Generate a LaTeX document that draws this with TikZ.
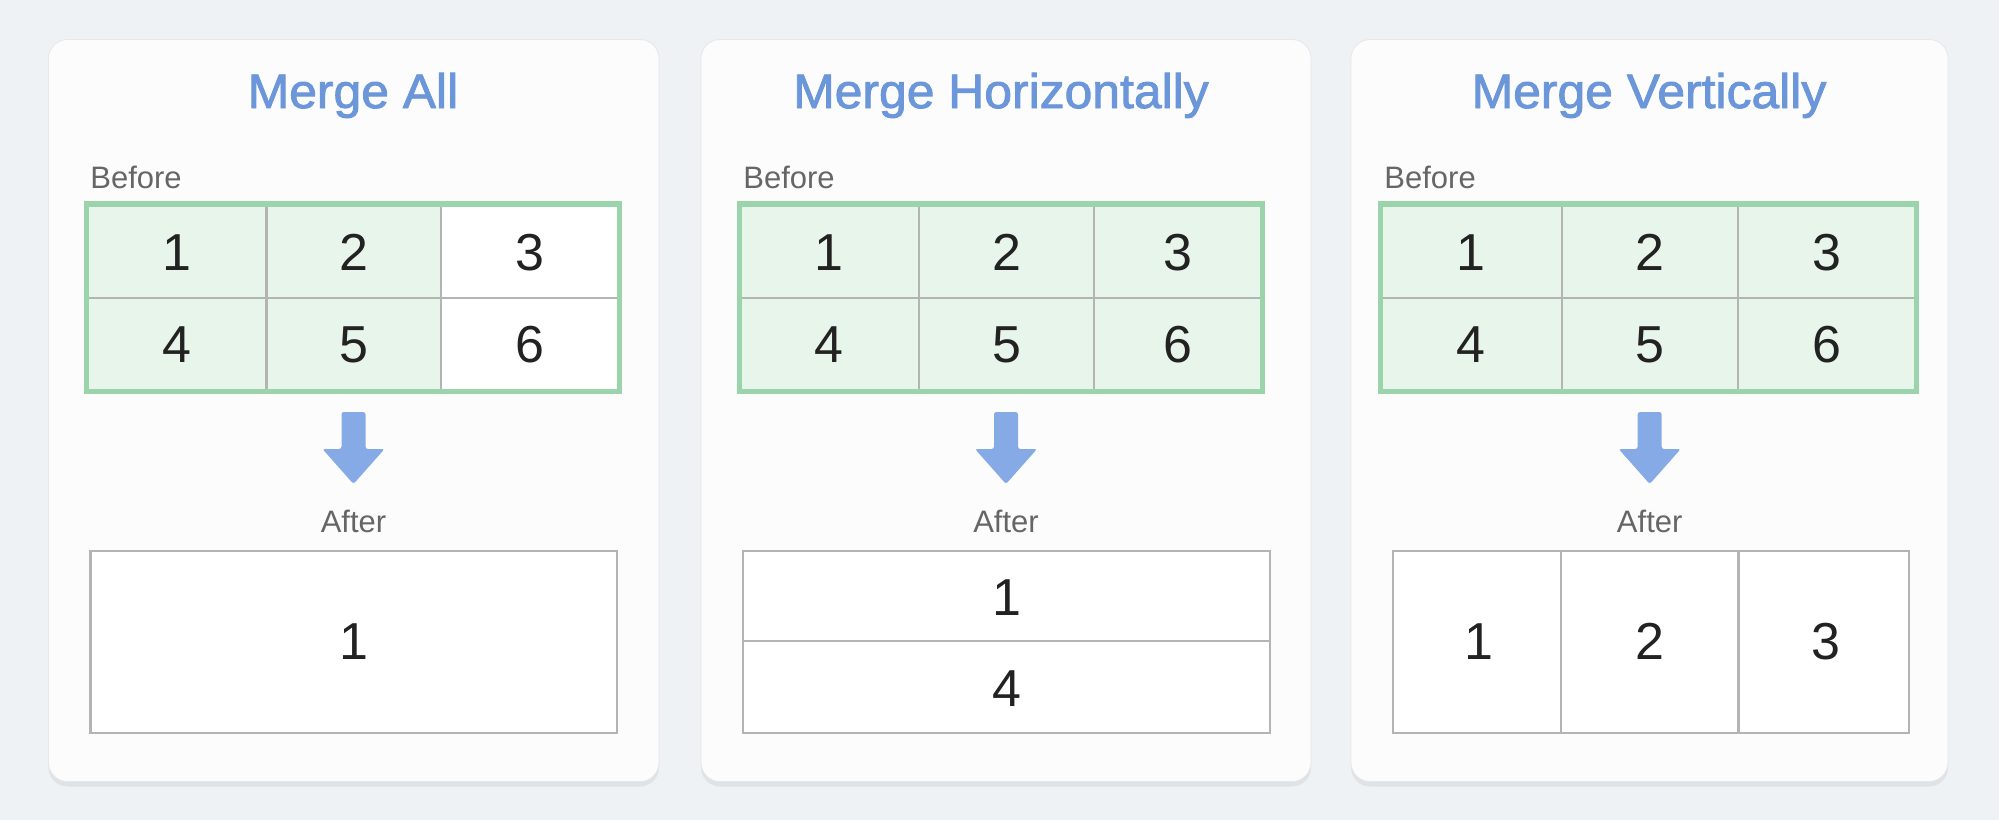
\documentclass[tikz,border=0pt]{standalone}
\usepackage{fontspec}
\setmainfont{Liberation Sans}
\newfontfamily\titlefont[FakeBold=1.8,FakeStretch=1.03]{Liberation Sans}
\usetikzlibrary{shadows}
\definecolor{bgc}{HTML}{EEF2F4}
\definecolor{cardc}{HTML}{FCFCFC}
\definecolor{cardline}{HTML}{E4E8EA}
\definecolor{titlec}{HTML}{6B96D9}
\definecolor{labc}{HTML}{666666}
\definecolor{numc}{HTML}{222222}
\definecolor{greenc}{HTML}{E8F5EA}
\definecolor{greenline}{HTML}{9BD3AA}
\definecolor{cellline}{HTML}{B4B4B4}
\definecolor{arrowc}{HTML}{86AAE6}
\tikzset{
 card/.style={fill=cardc, draw=cardline, line width=0.4pt, rounded corners=9.5pt,
   drop shadow={shadow xshift=0pt, shadow yshift=-2.5pt, opacity=0.06, fill=black}},
 titletext/.style={font=\titlefont\fontsize{24.2}{28}\selectfont, text=titlec, anchor=base, inner sep=0pt},
 labtext/.style={font=\fontsize{15.5}{18}\selectfont, text=labc, anchor=base, inner sep=0pt},
 numtext/.style={font=\fontsize{26}{30}\selectfont, text=numc, anchor=base, inner sep=0pt},
 gcell/.style={fill=greenc, draw=cellline, line width=1.2pt},
 wcell/.style={fill=white, draw=cellline, line width=1.2pt},
 gframe/.style={draw=greenline, line width=2.6pt},
 afterbox/.style={fill=white, draw=cellline, line width=1.2pt},
 bigarrow/.style={fill=arrowc, rounded corners=1.2pt},
}
\begin{document}
\begin{tikzpicture}[x=0.5pt,y=-0.5pt]
\useasboundingbox (0,0) rectangle (1999,820);
\fill[bgc] (0,0) rectangle (1999,820);

% cards
\draw[card] (48.5,39.5) rectangle (659,781.5);
\draw[card] (701,39.5) rectangle (1311,781.5);
\draw[card] (1351,39.5) rectangle (1948,781.5);

% titles
\node[titletext] (t1) at (353,108) {Merge All};
\node[titletext] (t2) at (1001,108) {Merge Horizontally};
\node[titletext] (t3) at (1649,108) {Merge Vertically};

% before labels
\node[labtext, anchor=base west] (b1) at (90,188) {Before};
\node[labtext, anchor=base west] (b2) at (743,188) {Before};
\node[labtext, anchor=base west] (b3) at (1384,188) {Before};

% ---------- panel 1 before table
\draw[gcell] (86.7,204) rectangle (266.5,298);
\draw[gcell] (266.5,204) rectangle (441,298);
\draw[wcell] (441,204) rectangle (619.6,298);
\draw[gcell] (86.7,298) rectangle (266.5,391.5);
\draw[gcell] (266.5,298) rectangle (441,391.5);
\draw[wcell] (441,298) rectangle (619.6,391.5);
\draw[gframe] (86.7,204) rectangle (619.6,391.5);
\node[numtext] (p1c1) at (176.6,270) {1};
\node[numtext] (p1c2) at (353.8,270) {2};
\node[numtext] (p1c3) at (530.3,270) {3};
\node[numtext] (p1c4) at (176.6,362.5) {4};
\node[numtext] (p1c5) at (353.8,362.5) {5};
\node[numtext] (p1c6) at (530.3,362.5) {6};

% ---------- panel 2 before table
\foreach \xa/\xb in {739.4/919.2, 919.2/1093.9, 1093.9/1262.2}{
  \draw[gcell] (\xa,204) rectangle (\xb,298);
  \draw[gcell] (\xa,298) rectangle (\xb,391.5);
}
\draw[gframe] (739.4,204) rectangle (1262.2,391.5);
\node[numtext] (p2c1) at (829.3,270) {1};
\node[numtext] (p2c2) at (1006.5,270) {2};
\node[numtext] (p2c3) at (1178,270) {3};
\node[numtext] (p2c4) at (829.3,362.5) {4};
\node[numtext] (p2c5) at (1006.5,362.5) {5};
\node[numtext] (p2c6) at (1178,362.5) {6};

% ---------- panel 3 before table
\foreach \xa/\xb in {1380.7/1561.8, 1561.8/1737.7, 1737.7/1916.2}{
  \draw[gcell] (\xa,204) rectangle (\xb,298);
  \draw[gcell] (\xa,298) rectangle (\xb,391.5);
}
\draw[gframe] (1380.7,204) rectangle (1916.2,391.5);
\node[numtext] (p3c1) at (1471.2,270) {1};
\node[numtext] (p3c2) at (1649.7,270) {2};
\node[numtext] (p3c3) at (1827,270) {3};
\node[numtext] (p3c4) at (1471.2,362.5) {4};
\node[numtext] (p3c5) at (1649.7,362.5) {5};
\node[numtext] (p3c6) at (1827,362.5) {6};

% ---------- arrows
\foreach \cx in {353.5, 1006, 1649.7}{
  \fill[bigarrow] ({\cx-12},412) -- ({\cx+12},412) -- ({\cx+12},449) -- ({\cx+31},449)
     -- (\cx,484) -- ({\cx-31},449) -- ({\cx-12},449) -- cycle;
}

% after labels
\node[labtext] (a1) at (353.5,532) {After};
\node[labtext] (a2) at (1006,532) {After};
\node[labtext] (a3) at (1649.7,532) {After};

% ---------- panel 1 after
\draw[afterbox] (90.5,551) rectangle (617,733);
\node[numtext] (q1c1) at (353.8,659) {1};

% ---------- panel 2 after
\draw[afterbox] (743,551) rectangle (1270,641);
\draw[afterbox] (743,641) rectangle (1270,733);
\node[numtext] (q2c1) at (1006.5,615) {1};
\node[numtext] (q2c4) at (1006.5,706) {4};

% ---------- panel 3 after
\draw[afterbox] (1393,551) rectangle (1561,733);
\draw[afterbox] (1561,551) rectangle (1738.5,733);
\draw[afterbox] (1738.5,551) rectangle (1909,733);
\node[numtext] (q3c1) at (1479,659) {1};
\node[numtext] (q3c2) at (1650,659) {2};
\node[numtext] (q3c3) at (1826,659) {3};
\end{tikzpicture}
\end{document}
